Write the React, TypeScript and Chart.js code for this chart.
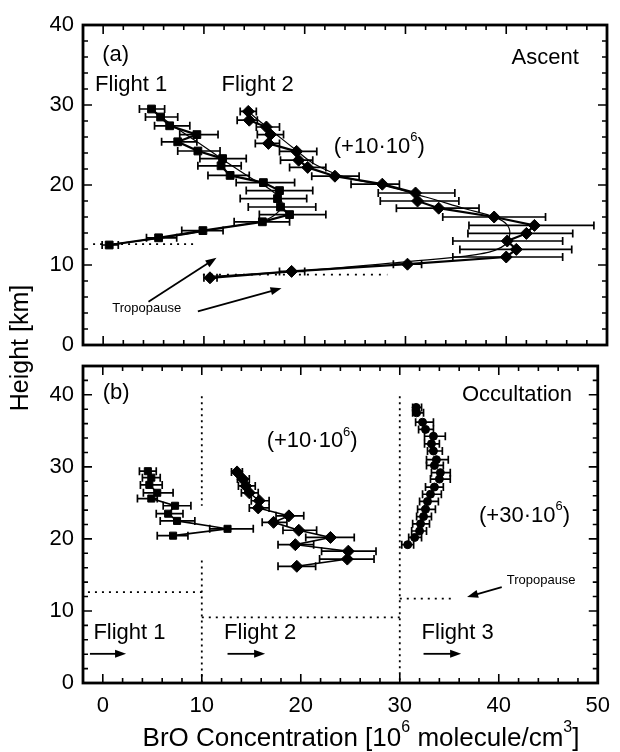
import React, { useEffect, useRef } from "react";
import { Chart, registerables } from "chart.js";

Chart.register(...registerables);

const FONT = "'Liberation Sans', Arial, Helvetica, sans-serif";

// ---------------- axes ----------------
const X_MIN = -2;
const X_MAX = 50;
const xTickValues = [0, 10, 20, 30, 40, 50];
const yTickValuesA = [0, 10, 20, 30, 40];
const yTickValuesB = [0, 10, 20, 30, 40];
const A_Y_MAX = 40;
const B_Y_MAX = 44;
const MINOR_STEP = 2;

// ---------------- panel (a) Ascent ----------------
// Flight 1 (squares)
const a1Height = [29.5, 28.5, 27.4, 26.3, 25.4, 24.25, 23.3, 22.4, 21.2, 20.3, 19.3, 18.3, 17.25, 16.3, 15.4, 14.3, 13.4, 12.5];
const a1Bro = [4.8, 5.7, 6.6, 9.3, 7.4, 9.4, 11.85, 11.7, 12.6, 15.9, 17.5, 17.3, 17.6, 18.5, 15.8, 9.9, 5.5, 0.6];
const a1Lo = [3.6, 4.2, 5.1, 7.6, 5.8, 7.4, 9.6, 9.4, 10.4, 13.2, 14.2, 13.6, 14.4, 15.5, 13.0, 7.8, 4.3, -0.1];
const a1Hi = [6.1, 7.4, 8.6, 11.4, 9.3, 11.6, 14.2, 13.7, 14.5, 19.0, 20.8, 20.2, 21.1, 22.1, 18.5, 11.9, 7.3, 1.5];
// Flight 1 smooth profile
const a1SmoothHeight = [29.5, 28.0, 26.5, 24.8, 22.8, 21.0, 19.5, 18.0, 16.8, 15.6, 14.7, 13.6, 12.6];
const a1SmoothBro = [4.8, 6.3, 8.0, 10.0, 12.3, 14.5, 16.5, 17.7, 17.5, 16.0, 12.0, 7.0, 1.0];
// Flight 2 (diamonds, shifted by +10e6)
const a2Height = [29.2, 28.1, 27.25, 26.3, 25.2, 24.2, 23.1, 22.2, 21.1, 20.1, 19.0, 18.0, 17.1, 16.0, 14.95, 13.95, 13.0, 11.95, 11.0, 10.1, 9.2, 8.4];
const a2Bro = [14.4, 14.5, 16.2, 16.6, 16.4, 19.2, 19.4, 20.3, 23.0, 27.7, 31.0, 31.2, 33.3, 38.8, 42.8, 42.0, 40.1, 41.0, 40.0, 30.2, 18.7, 10.6];
const a2Lo = [13.6, 13.3, 15.2, 15.3, 15.1, 17.5, 17.6, 18.5, 20.7, 24.6, 27.3, 27.5, 29.1, 33.7, 36.3, 36.2, 34.7, 35.4, 34.7, 28.8, 17.5, 10.0];
const a2Hi = [15.2, 15.3, 17.5, 17.9, 17.5, 21.2, 20.8, 22.1, 25.4, 29.4, 34.9, 35.3, 37.3, 43.9, 48.7, 46.6, 45.6, 46.5, 45.6, 31.6, 20.0, 11.3];
// Flight 2 smooth profile
const a2SmoothHeight = [29.2, 28.0, 26.5, 24.5, 22.6, 21.0, 19.9, 18.5, 17.0, 16.0, 15.0, 13.5, 12.2, 11.3, 10.4, 9.3, 8.6];
const a2SmoothBro = [14.4, 15.5, 17.0, 19.0, 21.0, 24.0, 28.0, 32.0, 36.0, 38.8, 40.1, 40.3, 39.5, 37.0, 30.0, 20.0, 11.0];
// tropopause (a)
const a1TropoBro = [-1.0, 9.1];
const a1TropoHeight = [12.6, 12.6];
const a2TropoBro = [9.9, 28.2];
const a2TropoHeight = [8.8, 8.8];

// ---------------- panel (b) Occultation ----------------
const b1Height = [29.4, 28.5, 27.5, 26.4, 25.6, 24.6, 23.5, 22.5, 21.4, 20.45];
const b1Bro = [4.55, 4.9, 4.7, 5.5, 4.9, 7.3, 6.6, 7.5, 12.6, 7.1];
const b1Lo = [3.7, 4.0, 3.8, 4.1, 3.5, 6.1, 5.4, 5.8, 10.8, 5.5];
const b1Hi = [5.4, 5.8, 6.0, 7.1, 5.5, 8.9, 8.1, 9.3, 15.2, 8.6];

const b2Height = [29.3, 28.3, 27.35, 26.4, 25.3, 24.3, 23.2, 22.3, 21.2, 20.2, 19.2, 18.3, 17.2, 16.2];
const b2Bro = [13.56, 14.15, 14.45, 14.8, 15.8, 15.7, 18.8, 17.25, 19.8, 23.0, 19.45, 24.8, 24.7, 19.6];
const b2Lo = [13.0, 13.6, 13.7, 14.0, 15.0, 14.8, 17.5, 16.1, 18.2, 20.5, 17.7, 22.1, 21.9, 17.7];
const b2Hi = [14.1, 14.8, 15.4, 15.7, 16.8, 16.8, 20.3, 18.6, 21.6, 25.4, 21.3, 27.6, 27.4, 21.5];

const b3Height = [38.25, 37.5, 36.2, 35.2, 34.25, 33.2, 32.2, 31.0, 30.2, 29.2, 28.3, 27.2, 26.2, 25.2, 24.1, 23.1, 22.1, 21.1, 20.2, 19.2];
const b3Bro = [31.65, 31.7, 32.3, 32.6, 33.4, 33.2, 33.4, 33.7, 33.5, 34.1, 34.0, 33.5, 33.1, 32.8, 32.6, 32.4, 32.1, 32.0, 31.5, 30.8];
const b3Lo = [31.3, 31.3, 31.6, 31.9, 32.5, 32.5, 32.8, 32.7, 32.7, 33.2, 33.1, 32.6, 32.3, 32.0, 31.8, 31.7, 31.3, 31.2, 30.9, 30.2];
const b3Hi = [32.2, 32.4, 33.4, 33.4, 34.6, 34.0, 34.3, 34.9, 34.4, 35.1, 35.1, 34.4, 34.2, 33.9, 33.6, 33.2, 33.0, 32.7, 32.2, 31.4];

// separators / tropopause (b)
const bSep10UpperBro = [10, 10];
const bSep10UpperHeight = [39.8, 24.6];
const bSep10LowerBro = [10, 10];
const bSep10LowerHeight = [17.0, 0];
const bSep30Bro = [30, 30];
const bSep30Height = [39.8, 0];
const b1TropoBro = [-1.5, 10];
const b1TropoHeight = [12.6, 12.6];
const b2TropoBro = [10, 30];
const b2TropoHeight = [9.1, 9.1];
const b3TropoBro = [30, 35.3];
const b3TropoHeight = [11.7, 11.7];

// ---------------- layout ----------------
const PAGE_W = 620;
const PAGE_H = 752;
const PLOT_LEFT = 83;
const PLOT_RIGHT = 607;
const A_TOP = 25;
const A_BOTTOM = 345;
const B_TOP = 366;
const B_BOTTOM = 683;

const pts = (xs: number[], ys: number[]) => xs.map((x, i) => ({ x, y: ys[i] }));

function markerSet(xs: number[], ys: number[], lo: number[], hi: number[], style: string, radius: number, lineWidth: number) {
  return {
    type: "line",
    data: pts(xs, ys),
    errLo: lo,
    errHi: hi,
    borderColor: "#000",
    backgroundColor: "#000",
    pointBackgroundColor: "#000",
    pointBorderColor: "#000",
    pointBorderWidth: 1,
    borderWidth: lineWidth,
    pointStyle: style,
    pointRadius: radius,
    showLine: lineWidth > 0,
    tension: 0,
    fill: false,
  };
}

function smoothSet(xs: number[], ys: number[]) {
  return {
    type: "line",
    data: pts(xs, ys),
    borderColor: "#000",
    borderWidth: 1.2,
    pointRadius: 0,
    showLine: true,
    tension: 0.4,
    fill: false,
  };
}

function dotSet(xs: number[], ys: number[], dash: number[]) {
  return {
    type: "line",
    data: pts(xs, ys),
    borderColor: "#000",
    borderWidth: 1.8,
    borderDash: dash,
    pointRadius: 0,
    showLine: true,
    tension: 0,
    fill: false,
  };
}

// ---------------- plugins ----------------
const framePlugin = {
  id: "frame",
  afterDatasetsDraw(chart: any) {
    const { ctx, chartArea } = chart;
    const { left, right, top, bottom } = chartArea;
    const xs = chart.scales.x;
    const ys = chart.scales.y;
    ctx.save();
    ctx.strokeStyle = "#000";
    ctx.lineWidth = 1.6;
    const MAJ = 9;
    const MIN = 5;
    ctx.beginPath();
    for (let v = Math.ceil(xs.min / MINOR_STEP) * MINOR_STEP; v <= xs.max + 1e-9; v += MINOR_STEP) {
      const len = xTickValues.includes(v) ? MAJ : MIN;
      const px = xs.getPixelForValue(v);
      ctx.moveTo(px, bottom);
      ctx.lineTo(px, bottom - len);
      ctx.moveTo(px, top);
      ctx.lineTo(px, top + len);
    }
    for (let v = Math.ceil(ys.min / MINOR_STEP) * MINOR_STEP; v <= ys.max + 1e-9; v += MINOR_STEP) {
      const len = v % 10 === 0 ? MAJ : MIN;
      const py = ys.getPixelForValue(v);
      ctx.moveTo(left, py);
      ctx.lineTo(left + len, py);
      ctx.moveTo(right, py);
      ctx.lineTo(right - len, py);
    }
    ctx.stroke();
    ctx.lineWidth = 2.8;
    ctx.strokeRect(left, top, right - left, bottom - top);
    ctx.restore();
  },
};

const errorBarPlugin = {
  id: "errbars",
  beforeDatasetsDraw(chart: any) {
    const { ctx } = chart;
    const xs = chart.scales.x;
    const ys = chart.scales.y;
    ctx.save();
    ctx.strokeStyle = "#000";
    ctx.lineWidth = 1.7;
    chart.data.datasets.forEach((ds: any) => {
      if (!ds.errLo) return;
      ds.data.forEach((p: any, i: number) => {
        const py = ys.getPixelForValue(p.y);
        const x1 = xs.getPixelForValue(ds.errLo[i]);
        const x2 = xs.getPixelForValue(ds.errHi[i]);
        ctx.beginPath();
        ctx.moveTo(x1, py);
        ctx.lineTo(x2, py);
        ctx.moveTo(x1, py - 4);
        ctx.lineTo(x1, py + 4);
        ctx.moveTo(x2, py - 4);
        ctx.lineTo(x2, py + 4);
        ctx.stroke();
      });
    });
    ctx.restore();
  },
};

function drawRich(ctx: any, text: string, x: number, y: number, align: string, size: number) {
  const parts: { t: string; sup: boolean }[] = [];
  for (let i = 0; i < text.length; i++) {
    if (text[i] === "^" && i + 1 < text.length) {
      parts.push({ t: text[i + 1], sup: true });
      i++;
    } else {
      const last = parts[parts.length - 1];
      if (last && !last.sup) last.t += text[i];
      else parts.push({ t: text[i], sup: false });
    }
  }
  const supSize = Math.round(size * 0.6);
  let total = 0;
  const widths = parts.map((p) => {
    ctx.font = `${p.sup ? supSize : size}px ${FONT}`;
    const w = ctx.measureText(p.t).width;
    total += w;
    return w;
  });
  let cx = align === "left" ? x : align === "right" ? x - total : x - total / 2;
  ctx.textBaseline = "middle";
  ctx.textAlign = "left";
  parts.forEach((p, i) => {
    ctx.font = `${p.sup ? supSize : size}px ${FONT}`;
    ctx.fillText(p.t, cx, p.sup ? y - size * 0.42 : y);
    cx += widths[i];
  });
}

const notesPlugin = {
  id: "notes",
  afterDatasetsDraw(chart: any, _args: any, opts: any) {
    const { ctx } = chart;
    const xs = chart.scales.x;
    const ys = chart.scales.y;
    ctx.save();
    ctx.fillStyle = "#000";
    ctx.strokeStyle = "#000";
    (opts.texts || []).forEach((t: any) => {
      drawRich(ctx, t.text, xs.getPixelForValue(t.x), ys.getPixelForValue(t.y), t.align, t.size);
    });
    (opts.arrows || []).forEach((a: any) => {
      const x1 = xs.getPixelForValue(a.x1);
      const y1 = ys.getPixelForValue(a.y1);
      const x2 = xs.getPixelForValue(a.x2);
      const y2 = ys.getPixelForValue(a.y2);
      const ang = Math.atan2(y2 - y1, x2 - x1);
      const hl = 11;
      const hw = 4;
      ctx.lineWidth = 1.8;
      ctx.beginPath();
      ctx.moveTo(x1, y1);
      ctx.lineTo(x2 - Math.cos(ang) * hl * 0.8, y2 - Math.sin(ang) * hl * 0.8);
      ctx.stroke();
      ctx.beginPath();
      ctx.moveTo(x2, y2);
      ctx.lineTo(x2 - Math.cos(ang) * hl - Math.sin(ang) * hw, y2 - Math.sin(ang) * hl + Math.cos(ang) * hw);
      ctx.lineTo(x2 - Math.cos(ang) * hl + Math.sin(ang) * hw, y2 - Math.sin(ang) * hl - Math.cos(ang) * hw);
      ctx.closePath();
      ctx.fill();
    });
    (opts.pageTexts || []).forEach((t: any) => {
      ctx.save();
      ctx.translate(t.px, t.py);
      ctx.rotate(t.rot || 0);
      drawRich(ctx, t.text, 0, 0, "center", t.size);
      ctx.restore();
    });
    ctx.restore();
  },
};

// ---------------- annotations ----------------
const notesA = {
  texts: [
    { text: "(a)", x: -0.1, y: 36.3, align: "left", size: 22 },
    { text: "Flight 1", x: -0.8, y: 32.5, align: "left", size: 22 },
    { text: "Flight 2", x: 11.75, y: 32.5, align: "left", size: 22 },
    { text: "Ascent", x: 47.2, y: 35.9, align: "right", size: 22 },
    { text: "(+10·10^6)", x: 27.4, y: 24.75, align: "center", size: 22 },
    { text: "Tropopause", x: 0.9, y: 4.6, align: "left", size: 13 },
  ],
  arrows: [
    { x1: 4.5, y1: 5.4, x2: 11.25, y2: 10.9 },
    { x1: 9.4, y1: 4.2, x2: 17.7, y2: 7.1 },
  ],
  pageTexts: [{ text: "Height [km]", px: 21, py: 348, rot: -Math.PI / 2, size: 25 }],
};

const notesB = {
  texts: [
    { text: "(b)", x: 0, y: 40.2, align: "left", size: 22 },
    { text: "Occultation", x: 47.4, y: 40.0, align: "right", size: 22 },
    { text: "(+10·10^6)", x: 21.15, y: 33.55, align: "center", size: 22 },
    { text: "(+30·10^6)", x: 42.6, y: 23.2, align: "center", size: 22 },
    { text: "Tropopause", x: 40.8, y: 14.25, align: "left", size: 13 },
    { text: "Flight 1", x: -0.95, y: 6.9, align: "left", size: 22 },
    { text: "Flight 2", x: 12.25, y: 6.9, align: "left", size: 22 },
    { text: "Flight 3", x: 32.2, y: 6.9, align: "left", size: 22 },
  ],
  arrows: [
    { x1: -1.3, y1: 4.05, x2: 2.35, y2: 4.05 },
    { x1: 12.6, y1: 4.05, x2: 16.4, y2: 4.05 },
    { x1: 32.4, y1: 4.05, x2: 36.2, y2: 4.05 },
    { x1: 40.3, y1: 13.3, x2: 36.8, y2: 11.95 },
  ],
  pageTexts: [{ text: "BrO Concentration [10^6 molecule/cm^3]", px: 361, py: 739, rot: 0, size: 26 }],
};

function yAxis(max: number, ticks: number[]) {
  return {
    type: "linear",
    min: 0,
    max,
    afterBuildTicks: (s: any) => {
      s.ticks = ticks.map((v) => ({ value: v }));
    },
    afterFit: (s: any) => {
      s.width = PLOT_LEFT;
    },
    ticks: { font: { size: 22, family: FONT }, color: "#000", padding: 9 },
    grid: { display: false, drawTicks: false },
    border: { display: false },
  };
}

function makeConfig(panel: "a" | "b") {
  let datasets: any[];
  if (panel === "a") {
    datasets = [
      markerSet(a1Bro, a1Height, a1Lo, a1Hi, "rect", 5.5, 2.2),
      markerSet(a2Bro, a2Height, a2Lo, a2Hi, "rectRot", 6, 2.2),
      smoothSet(a1SmoothBro, a1SmoothHeight),
      smoothSet(a2SmoothBro, a2SmoothHeight),
      dotSet(a1TropoBro, a1TropoHeight, [2, 5]),
      dotSet(a2TropoBro, a2TropoHeight, [2, 6]),
    ];
  } else {
    datasets = [
      markerSet(b1Bro, b1Height, b1Lo, b1Hi, "rect", 5, 1.6),
      markerSet(b2Bro, b2Height, b2Lo, b2Hi, "rectRot", 6, 1.6),
      markerSet(b3Bro, b3Height, b3Lo, b3Hi, "circle", 4, 0),
      dotSet(bSep10UpperBro, bSep10UpperHeight, [2, 4]),
      dotSet(bSep10LowerBro, bSep10LowerHeight, [2, 4]),
      dotSet(bSep30Bro, bSep30Height, [2, 4]),
      dotSet(b1TropoBro, b1TropoHeight, [2, 5]),
      dotSet(b2TropoBro, b2TropoHeight, [2, 5]),
      dotSet(b3TropoBro, b3TropoHeight, [2, 5]),
    ];
  }
  const isA = panel === "a";
  return {
    type: "scatter",
    data: { datasets },
    plugins: [errorBarPlugin, framePlugin, notesPlugin],
    options: {
      responsive: false,
      animation: false,
      devicePixelRatio: 1,
      layout: {
        padding: isA
          ? { left: 0, right: PAGE_W - PLOT_RIGHT, top: A_TOP, bottom: PAGE_H - A_BOTTOM }
          : { left: 0, right: PAGE_W - PLOT_RIGHT, top: B_TOP, bottom: 0 },
      },
      scales: {
        x: {
          type: "linear",
          min: X_MIN,
          max: X_MAX,
          display: !isA,
          afterBuildTicks: (s: any) => {
            s.ticks = xTickValues.map((v) => ({ value: v }));
          },
          afterFit: (s: any) => {
            if (!isA) s.height = PAGE_H - B_BOTTOM;
          },
          ticks: { font: { size: 22, family: FONT }, color: "#000", padding: 10, maxRotation: 0 },
          grid: { display: false, drawTicks: false },
          border: { display: false },
        },
        y: isA ? yAxis(A_Y_MAX, yTickValuesA) : yAxis(B_Y_MAX, yTickValuesB),
      },
      plugins: {
        legend: { display: false },
        tooltip: { enabled: false },
        notes: isA ? notesA : notesB,
      },
    },
  };
}

export default function App() {
  const refA = useRef<HTMLCanvasElement>(null);
  const refB = useRef<HTMLCanvasElement>(null);
  useEffect(() => {
    const ca = new Chart(refA.current as HTMLCanvasElement, makeConfig("a") as any);
    const cb = new Chart(refB.current as HTMLCanvasElement, makeConfig("b") as any);
    return () => {
      ca.destroy();
      cb.destroy();
    };
  }, []);
  const cs: React.CSSProperties = { position: "absolute", left: 0, top: 0, width: PAGE_W, height: PAGE_H };
  return (
    <div style={{ position: "absolute", left: 0, top: 0, width: PAGE_W, height: PAGE_H, background: "#fff" }}>
      <canvas ref={refA} width={PAGE_W} height={PAGE_H} style={cs} />
      <canvas ref={refB} width={PAGE_W} height={PAGE_H} style={cs} />
    </div>
  );
}
